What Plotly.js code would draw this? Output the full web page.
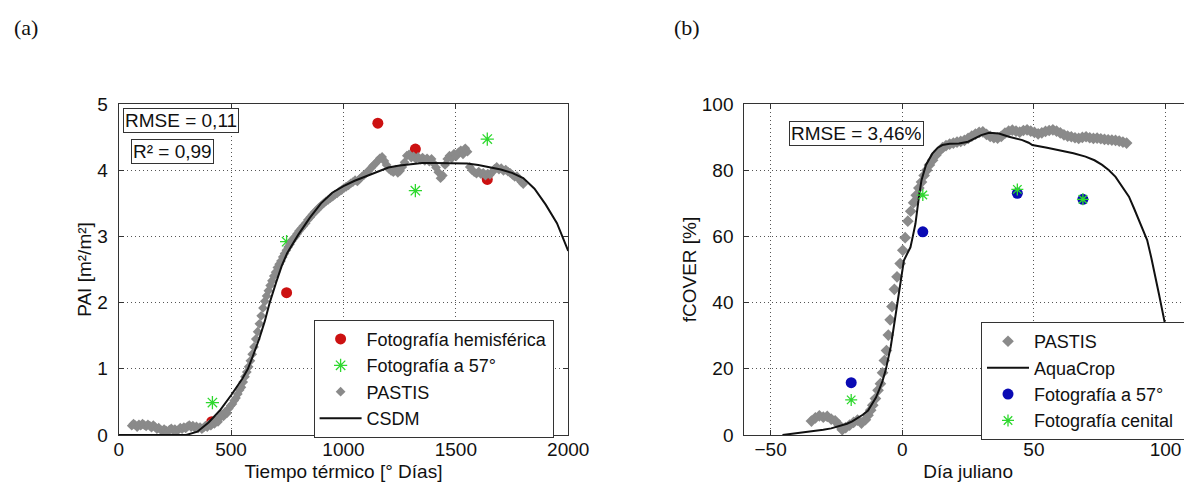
<!DOCTYPE html>
<html>
<head>
<meta charset="utf-8">
<script src="https://cdn.plot.ly/plotly-3.0.1.min.js"></script>
<style>
html,body{margin:0;padding:0;overflow:hidden;background:#fff;}
#chart{width:1200px;height:482px;}
</style>
</head>
<body>
<div id="chart"></div>
<script>
// ---------- Panel (a): PAI ----------
const hemiX = [414, 747, 1153, 1320, 1640];
const hemiY = [0.20, 2.15, 4.71, 4.32, 3.86];
const foto57aX = [417, 747, 1320, 1640];
const foto57aY = [0.49, 2.92, 3.69, 4.47];
const pastisAX = [58,66,74,82,90,98,106,114,122,130,138,146,154,162,170,178,186,194,202,210,218,226,234,242,250,258,266,274,282,290,298,306,314,322,330,338,346,354,362,370,378,386,394,402,410,418,426,434,442,450,458,466,474,482,490,498,506,514,522,530,538,546,554,562,570,578,586,594,602,610,618,626,634,642,650,658,666,674,682,690,698,706,714,722,730,738,746,754,762,770,778,786,794,802,812,822,832,842,852,862,872,882,892,902,912,922,932,942,952,962,972,982,992,1002,1012,1022,1032,1042,1052,1062,1072,1082,1092,1102,1112,1122,1132,1142,1152,1162,1172,1182,1192,1202,1212,1222,1232,1242,1252,1262,1272,1282,1292,1302,1312,1322,1332,1342,1352,1362,1372,1382,1392,1402,1412,1422,1432,1442,1452,1462,1472,1482,1492,1502,1512,1522,1532,1542,1552,1562,1572,1582,1592,1602,1612,1622,1632,1642,1652,1662,1672,1682,1692,1702,1712,1722,1732,1742,1752,1762,1772,1782,1792,1800];
const pastisAY = [0.14,0.17,0.15,0.12,0.16,0.14,0.17,0.15,0.13,0.16,0.14,0.11,0.15,0.12,0.09,0.11,0.08,0.06,0.09,0.07,0.05,0.08,0.10,0.07,0.09,0.06,0.08,0.11,0.09,0.12,0.10,0.13,0.15,0.12,0.14,0.11,0.13,0.10,0.12,0.09,0.11,0.14,0.12,0.16,0.14,0.19,0.17,0.22,0.20,0.26,0.30,0.28,0.35,0.33,0.40,0.44,0.47,0.52,0.56,0.62,0.68,0.72,0.80,0.88,0.95,1.03,1.12,1.22,1.33,1.45,1.56,1.68,1.80,1.92,2.02,2.10,2.18,2.26,2.33,2.40,2.46,2.53,2.58,2.63,2.69,2.74,2.79,2.84,2.88,2.93,2.97,3.00,3.04,3.08,3.12,3.16,3.20,3.25,3.29,3.33,3.37,3.40,3.44,3.47,3.50,3.53,3.55,3.58,3.60,3.63,3.65,3.68,3.70,3.73,3.75,3.77,3.80,3.82,3.85,3.83,3.87,3.90,3.93,3.96,3.99,4.03,4.07,4.10,4.14,4.18,4.20,4.14,4.08,4.02,3.99,3.97,4.01,3.96,3.99,4.05,4.12,4.22,4.24,4.19,4.21,4.17,4.20,4.16,4.19,4.14,4.18,4.13,4.17,4.10,4.04,3.97,3.88,3.92,4.08,4.17,4.22,4.18,4.25,4.21,4.27,4.30,4.24,4.33,4.28,4.05,4.00,3.97,3.95,3.98,3.94,3.96,3.92,3.95,3.93,3.97,4.02,4.05,4.01,4.03,3.99,4.01,3.98,3.96,3.93,3.90,3.91,3.86,3.82,3.79];
const csdmX = [0,100,200,300,350,400,450,500,550,575,600,625,650,672,700,725,750,775,800,850,900,950,1000,1050,1100,1150,1200,1250,1300,1350,1400,1450,1500,1550,1600,1650,1700,1750,1800,1850,1900,1950,2000];
const csdmY = [0,0,0,0,0.05,0.19,0.37,0.60,0.85,1.00,1.22,1.45,1.72,2.00,2.30,2.55,2.75,2.90,3.03,3.28,3.50,3.66,3.76,3.84,3.91,3.98,4.04,4.07,4.09,4.11,4.11,4.11,4.11,4.10,4.08,4.05,4.01,3.96,3.88,3.72,3.48,3.20,2.78];

// ---------- Panel (b): fCOVER ----------
const pastisBX = [-34.5,-33,-31.5,-30,-28.5,-27,-25.5,-24,-22.8,-21.5,-20,-18.5,-17,-15.5,-14,-13,-12,-11.2,-10.2,-9.2,-8.3,-7.5,-6.8,-6,-5.3,-4.6,-3.9,-3.0,-2.0,-0.8,0.2,1.1,2.1,3.2,4.3,5.3,6.3,7.3,8.3,9.3,10.3,11.5,12.8,14,15.3,16.6,18,19.4,20.8,22.2,23.6,25,26.4,27.8,29.2,30.6,32,33.4,34.8,36.2,37.6,39,40.4,41.8,43.2,44.6,46,47.4,48.8,50.2,51.6,53,54.4,55.8,57.2,58.6,60,61.4,62.8,64.2,65.6,67,68.4,69.8,71.2,72.6,74,75.4,76.8,78.2,79.6,81,82.4,83.8,85.2];
const pastisBY = [4.2,5.2,5.8,5.4,5.6,4.8,4.3,3.0,1.6,2.2,3.0,3.8,4.5,3.6,4.6,6.0,7.5,9.0,11.0,13.5,15.5,18.8,22.5,25.5,30.2,34.8,38.8,44.0,47.8,51.8,55.8,59.6,64.6,67.6,70.2,72.4,74.6,76.4,78.4,80.0,81.6,83.0,84.6,85.8,86.8,87.4,87.9,88.2,88.5,88.7,89.0,89.6,90.3,90.9,91.4,91.6,90.8,90.2,89.8,89.7,90.2,91.2,91.8,92.1,91.8,91.5,92.0,92.2,91.8,91.4,91.0,91.3,91.7,92.0,92.2,91.8,91.3,90.7,90.3,90.1,89.8,89.6,89.9,90.1,89.8,89.6,89.7,89.5,89.3,89.2,89.1,89.0,88.8,88.5,88.2];
const aquaX = [-45.5,-40,-35,-30,-27,-24,-21,-19,-17,-15,-13,-11.3,-10,-8.8,-7.5,-6.3,-5.3,-4.4,-3.5,-2.5,-1.5,-0.6,0.6,2,3.1,4,5,6.3,7.3,9,11.4,13.5,15.2,18,21.5,25,28,30,33,36.7,40.5,43,45.6,48,49.4,55,59.5,65,69.6,73,75.9,78.5,81,83.5,86.1,88,89.9,91.5,93,94.6,96.2,97.5,98.7,100,102,104];
const aquaY = [0,0.5,1.1,1.6,2.0,2.6,3.4,4.1,5.0,6.1,7.4,9.5,11.3,13.6,16.3,19.6,23,26.6,31.2,36.6,41.8,46.7,52.7,55,56.7,60,63.8,71.8,77,81.6,85,86.8,87.6,88,88.1,88.6,89.8,90.6,91.3,91.1,90.1,89.6,89.1,88.3,87.6,86.8,86.1,85.1,84.1,83,81.6,80,78,75.2,72,68.5,65,61.8,58.9,53.5,47.8,42.5,37.8,32.7,25,17];
const foto57bX = [-19.4, 7.8, 43.7, 68.6];
const foto57bY = [15.8, 61.4, 73.0, 71.2];
const cenitalX = [-19.4, 7.8, 43.7, 68.6];
const cenitalY = [10.6, 72.5, 74.2, 71.2];

const xTicksA = [0, 500, 1000, 1500, 2000];
const yTicksA = [0, 1, 2, 3, 4, 5];
const xTicksB = [-50, 0, 50, 100];
const yTicksB = [0, 20, 40, 60, 80, 100];

const FONT = 'Liberation Sans, Arial, sans-serif';
const W = 1200;
const red = '#cc1111', green = '#2ed82e', gray = '#8a8a8a', blue = '#0a0ab4';

const traces = [
  {x: hemiX, y: hemiY, type: 'scatter', mode: 'markers', name: 'Fotografía hemisférica',
   marker: {symbol: 'circle', size: 11, color: red}, xaxis: 'x', yaxis: 'y', legend: 'legend'},
  {x: foto57aX, y: foto57aY, type: 'scatter', mode: 'markers', name: 'Fotografía a 57°',
   marker: {symbol: 'asterisk-open', size: 11, color: green, line: {color: green, width: 1.3}}, xaxis: 'x', yaxis: 'y', legend: 'legend'},
  {x: pastisAX, y: pastisAY, type: 'scatter', mode: 'markers', name: 'PASTIS',
   marker: {symbol: 'diamond', size: 7.5, color: gray}, xaxis: 'x', yaxis: 'y', legend: 'legend'},
  {x: csdmX, y: csdmY, type: 'scatter', mode: 'lines', name: 'CSDM',
   line: {color: '#111', width: 2}, xaxis: 'x', yaxis: 'y', legend: 'legend'},

  {x: pastisBX, y: pastisBY, type: 'scatter', mode: 'markers', name: 'PASTIS',
   marker: {symbol: 'diamond', size: 9, color: gray}, xaxis: 'x2', yaxis: 'y2', legend: 'legend2'},
  {x: aquaX, y: aquaY, type: 'scatter', mode: 'lines', name: 'AquaCrop',
   line: {color: '#111', width: 2}, xaxis: 'x2', yaxis: 'y2', legend: 'legend2'},
  {x: foto57bX, y: foto57bY, type: 'scatter', mode: 'markers', name: 'Fotografía a 57°',
   marker: {symbol: 'circle', size: 11, color: blue}, xaxis: 'x2', yaxis: 'y2', legend: 'legend2'},
  {x: cenitalX, y: cenitalY, type: 'scatter', mode: 'markers', name: 'Fotografía cenital\u00a0\u00a0',
   marker: {symbol: 'asterisk-open', size: 10, color: green, line: {color: green, width: 1.3}}, xaxis: 'x2', yaxis: 'y2', legend: 'legend2'}
];

function axis(extra) {
  return Object.assign({
    showline: true, mirror: 'ticks', linecolor: '#333', linewidth: 1,
    ticks: 'inside', ticklen: 5, tickcolor: '#333', tickwidth: 1,
    showgrid: true, gridcolor: '#555', gridwidth: 1, griddash: '1px,3px',
    zeroline: false, tickfont: {family: FONT, size: 19, color: '#111'}
  }, extra);
}

const legendStyle = {
  bgcolor: '#ffffff', bordercolor: '#333', borderwidth: 1,
  font: {family: FONT, size: 18, color: '#111'},
  xanchor: 'left', yanchor: 'middle', itemwidth: 42, tracegroupgap: 0,
  xref: 'paper', yref: 'paper'
};

const layout = {
  width: W, height: 482,
  margin: {l: 0, r: 0, t: 104, b: 47, pad: 0},
  paper_bgcolor: '#fff', plot_bgcolor: '#fff',
  font: {family: FONT, size: 19, color: '#111'},
  xaxis: axis({domain: [118.7 / W, 568.2 / W], range: [0, 2000], tickvals: xTicksA, ticklabelstandoff: -3,
    title: {text: 'Tiempo térmico [° Días]', font: {family: FONT, size: 19}, standoff: 9}}),
  yaxis: axis({domain: [0, 1], range: [0, 5], tickvals: yTicksA, ticklabelstandoff: 6,
    title: {text: 'PAI [m²/m²]', font: {family: FONT, size: 19}, standoff: 0}}),
  xaxis2: axis({domain: [744.3 / W, 1191.9 / W], range: [-60, 110], tickvals: xTicksB, anchor: 'y2', ticklabelstandoff: -3,
    title: {text: 'Día juliano', font: {family: FONT, size: 19}, standoff: 9}}),
  yaxis2: axis({domain: [0, 1], range: [0, 100], tickvals: yTicksB, anchor: 'x2', ticklabelstandoff: 6,
    title: {text: 'fCOVER [%]', font: {family: FONT, size: 19}, standoff: 0}}),
  legend: Object.assign({}, legendStyle, {x: 313.6 / W, y: 0.17}),
  legend2: Object.assign({}, legendStyle, {x: 981 / W, y: 0.163}),
  annotations: [
    {text: 'RMSE = 0,11', xref: 'x domain', yref: 'y domain', x: 0.1395, y: 0.949,
     xanchor: 'center', yanchor: 'middle', showarrow: false, bgcolor: '#fff',
     bordercolor: '#333', borderwidth: 1, borderpad: 1, font: {family: FONT, size: 19, color: '#111'}},
    {text: 'R² = 0,99', xref: 'x domain', yref: 'y domain', x: 0.1208, y: 0.857,
     xanchor: 'center', yanchor: 'middle', showarrow: false, bgcolor: '#fff',
     bordercolor: '#333', borderwidth: 1, borderpad: 1, font: {family: FONT, size: 19, color: '#111'}},
    {text: 'RMSE = 3,46%', xref: 'x2 domain', yref: 'y2 domain', x: 0.2502, y: 0.91,
     xanchor: 'center', yanchor: 'middle', showarrow: false, bgcolor: '#fff',
     bordercolor: '#333', borderwidth: 1, borderpad: 1, font: {family: FONT, size: 19, color: '#111'}},
    {text: '(a)', xref: 'paper', yref: 'paper', x: 12 / W, y: (434.5 - 27) / 331,
     xanchor: 'left', yanchor: 'middle', showarrow: false,
     font: {family: 'Liberation Serif, Times New Roman, serif', size: 22, color: '#111'}},
    {text: '(b)', xref: 'paper', yref: 'paper', x: 672 / W, y: (434.5 - 27) / 331,
     xanchor: 'left', yanchor: 'middle', showarrow: false,
     font: {family: 'Liberation Serif, Times New Roman, serif', size: 22, color: '#111'}}
  ],
  showlegend: true
};

Plotly.newPlot('chart', traces, layout, {displayModeBar: false, staticPlot: true});
</script>
</body>
</html>
